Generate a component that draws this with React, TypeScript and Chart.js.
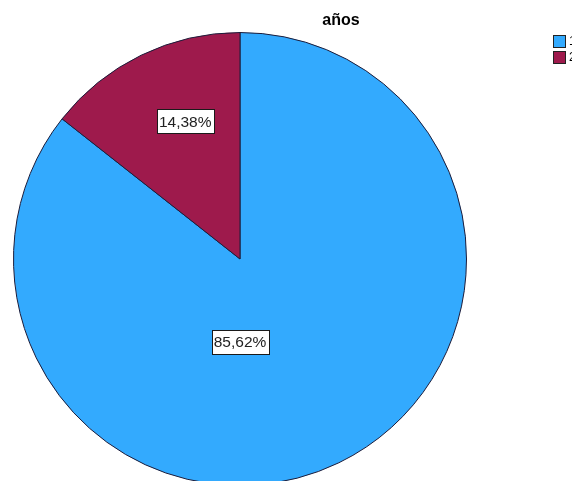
import React, { useEffect, useRef } from "react";
import { Chart, registerables } from "chart.js";

Chart.register(...registerables);

const title = "años";
const categories = ["1", "2"];
const percentages = [85.62, 14.38];
const colors = ["#33aafe", "#9e1a4c"];
const valueLabels = ["85,62%", "14,38%"];

export default function App() {
  const ref = useRef<HTMLCanvasElement | null>(null);

  useEffect(() => {
    if (!ref.current) return;

    const labelPos = [
      { fx: 0.0, fy: 0.366 },
      { fx: -0.242, fy: -0.608 },
    ];

    const decorPlugin = {
      id: "decor",
      afterDatasetsDraw(chart: any) {
        const ctx = chart.ctx as CanvasRenderingContext2D;
        const meta = chart.getDatasetMeta(0);
        ctx.save();
        // value labels
        meta.data.forEach((arc: any, i: number) => {
          const r = arc.outerRadius;
          const x = arc.x + labelPos[i].fx * r;
          const y = arc.y + labelPos[i].fy * r;
          ctx.font = "15.5px Arial, 'Liberation Sans', sans-serif";
          const w = ctx.measureText(valueLabels[i]).width + 4;
          const h = 24;
          ctx.fillStyle = "#ffffff";
          ctx.fillRect(Math.round(x - w / 2) + 0.5, Math.round(y - h / 2) + 0.5, Math.round(w), h);
          ctx.strokeStyle = "#1a1a1a";
          ctx.lineWidth = 1;
          ctx.strokeRect(Math.round(x - w / 2) + 0.5, Math.round(y - h / 2) + 0.5, Math.round(w), h);
          ctx.fillStyle = "#222222";
          ctx.textAlign = "center";
          ctx.textBaseline = "middle";
          ctx.fillText(valueLabels[i], x, y + 1);
        });
        // title
        ctx.font = "bold 16px Arial, 'Liberation Sans', sans-serif";
        ctx.fillStyle = "#000000";
        ctx.textAlign = "center";
        ctx.textBaseline = "middle";
        ctx.fillText(title, 341, 21);
        // legend
        categories.forEach((c, i) => {
          const y = 35 + i * 16;
          ctx.fillStyle = colors[i];
          ctx.fillRect(553.5, y + 0.5, 12, 12);
          ctx.strokeStyle = "#222";
          ctx.lineWidth = 1;
          ctx.strokeRect(553.5, y + 0.5, 12, 12);
          ctx.fillStyle = "#000";
          ctx.font = "12px Arial, 'Liberation Sans', sans-serif";
          ctx.textAlign = "left";
          ctx.textBaseline = "middle";
          ctx.fillText(c, 569, y + 7);
        });
        ctx.restore();
      },
    };

    const chart = new Chart(ref.current, {
      type: "pie",
      data: {
        labels: categories,
        datasets: [
          {
            data: percentages,
            backgroundColor: colors,
            borderColor: "#1c1c3a",
            borderWidth: 1,
          },
        ],
      },
      options: {
        responsive: false,
        animation: false,
        layout: { padding: { left: 13, right: 105, top: 32, bottom: 34 } },
        plugins: {
          legend: { display: false },
          title: { display: false },
          tooltip: { enabled: false },
        },
      },
      plugins: [decorPlugin],
    });

    return () => chart.destroy();
  }, []);

  return (
    <div
      style={{
        position: "fixed",
        top: 0,
        left: 0,
        width: 572,
        height: 481,
        overflow: "hidden",
        background: "#ffffff",
      }}
    >
      <canvas ref={ref} width={572} height={520} style={{ display: "block" }} />
    </div>
  );
}
